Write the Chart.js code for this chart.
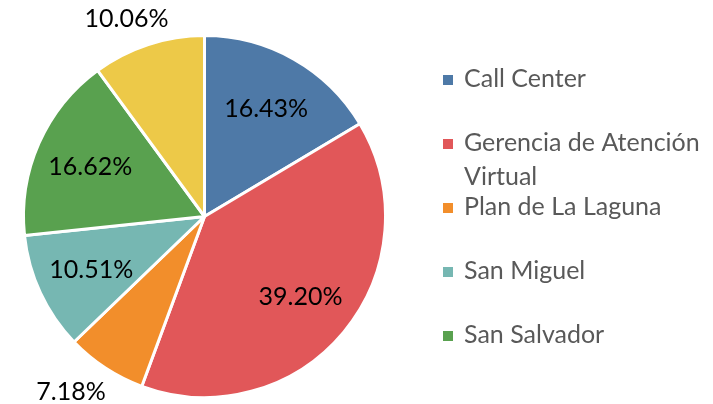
<!DOCTYPE html>
<html>
<head>
<meta charset="utf-8">
<script src="https://cdn.jsdelivr.net/npm/chart.js@4/dist/chart.umd.min.js"></script>
<style>
  html, body { margin: 0; padding: 0; background: #fff; }
  #wrap { width: 713px; height: 404px; position: relative; }
</style>
</head>
<body>
<div id="wrap"><canvas id="pieChart"></canvas></div>
<script>
var categories = ["Call Center", "Gerencia de Atención Virtual", "Plan de La Laguna", "San Miguel", "San Salvador", "Santa Ana"];
var shares = [16.43, 39.20, 7.18, 10.51, 16.62, 10.06];
var sliceColors = ["#4e79a7", "#e15759", "#f28e2b", "#76b7b2", "#59a14f", "#edc948"];
// where each percentage label goes: inside the slice or outside it
var labelPlace = ["in", "in", "out", "in", "in", "out"];
// legend lines as they wrap in the picture (last entry is cut off there)
var legendLines = [["Call Center"], ["Gerencia de Atención", "Virtual"], ["Plan de La Laguna"], ["San Miguel"], ["San Salvador"]];

var labelFont = "25px Lato";
var legendFont = "25px Lato";

var pctLabels = {
  id: "pctLabels",
  afterDatasetsDraw: function (chart) {
    var ctx = chart.ctx;
    var meta = chart.getDatasetMeta(0);
    ctx.save();
    ctx.font = labelFont;
    ctx.fillStyle = "#000";
    ctx.textAlign = "center";
    ctx.textBaseline = "middle";
    meta.data.forEach(function (arc, i) {
      var p = arc.getProps(["x", "y", "startAngle", "endAngle", "outerRadius"], true);
      var mid = (p.startAngle + p.endAngle) / 2;
      var txt = shares[i].toFixed(2) + "%";
      var c = Math.cos(mid), s = Math.sin(mid);
      var x, y;
      if (labelPlace[i] == "in") {
        x = p.x + c * p.outerRadius * 0.69;
        y = p.y + s * p.outerRadius * 0.69;
      } else {
        var w = ctx.measureText(txt).width;
        var d = p.outerRadius + 28;
        x = p.x + c * d + c * w / 2;
        y = p.y + s * d;
      }
      ctx.fillText(txt, x, y + 1);
    });
    ctx.restore();
  }
};

var sideLegend = {
  id: "sideLegend",
  afterDraw: function (chart) {
    var ctx = chart.ctx;
    ctx.save();
    ctx.font = legendFont;
    ctx.textBaseline = "middle";
    ctx.textAlign = "left";
    legendLines.forEach(function (lines, i) {
      var y = 79 + i * 64;
      ctx.fillStyle = sliceColors[i];
      ctx.fillRect(443, y - 4, 10, 10);
      ctx.fillStyle = "#595959";
      lines.forEach(function (t, j) {
        ctx.fillText(t, 464, y + j * 34);
      });
    });
    ctx.restore();
  }
};

new Chart("pieChart", {
  type: "pie",
  data: {
    labels: categories,
    datasets: [
      {
        data: shares,
        backgroundColor: sliceColors,
        borderColor: "#fff",
        borderWidth: 3,
      },
    ],
  },
  options: {
    responsive: true,
    maintainAspectRatio: false,
    animation: false,
    layout: { padding: { top: 34, bottom: 5, left: 22, right: 326 } },
    plugins: {
      legend: { display: false },
      tooltip: { enabled: false },
    },
  },
  plugins: [pctLabels, sideLegend],
});
</script>
</body>
</html>
